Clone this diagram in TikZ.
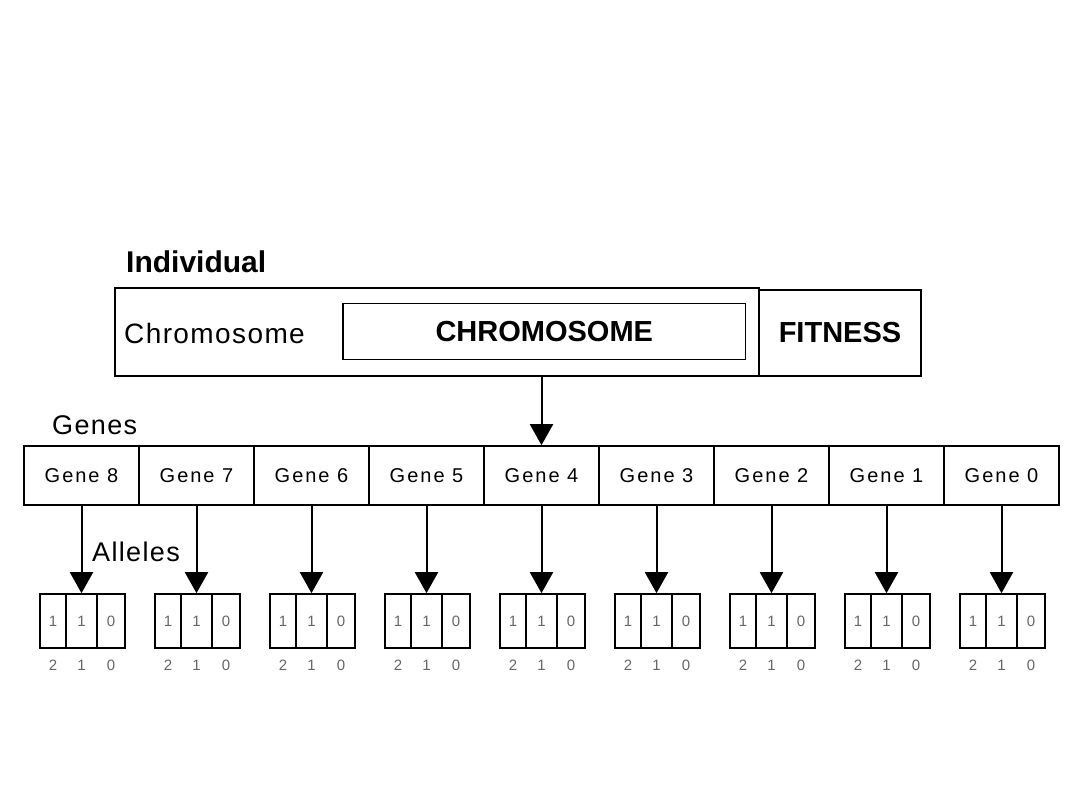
\documentclass[tikz,border=0pt]{standalone}
\usepackage{fontspec}
\setmainfont{Liberation Sans}
\newfontfamily\spfont[LetterSpace=5]{Liberation Sans}
\newfontfamily\genefont[LetterSpace=10]{Liberation Sans}
\usetikzlibrary{arrows.meta}
\begin{document}
\begin{tikzpicture}[x=1pt,y=-1pt,
  box/.style={draw,line width=1.6pt,inner sep=0pt,minimum width=#1},
  genecell/.style={draw,line width=1.6pt,inner sep=0pt,minimum width=115pt,minimum height=59pt,font=\genefont\fontsize{20}{22}\selectfont},
  allele/.style={draw,line width=1.6pt,inner sep=0pt,minimum width=#1,minimum height=54pt,font=\fontsize{15}{16}\selectfont,text=black!60},
  idx/.style={inner sep=0pt,font=\fontsize{15}{16}\selectfont,text=black!60},
  lbl/.style={inner sep=0pt,anchor=base west},
  arr/.style={line width=2pt,-{Triangle[width=23pt,length=21pt]}}]
\useasboundingbox (0,0) rectangle (1080,810);
% individual
\node[lbl,font=\bfseries\fontsize{30}{32}\selectfont] (indlbl) at (126,273) {Individual};
\node[box=644pt,minimum height=88pt] (indiv) at (437,332) {};
\node[box=162pt,minimum height=86pt,font=\bfseries\fontsize{29}{31}\selectfont] (fit) at (840,333) {FITNESS};
\node[box=402.5pt,minimum height=56pt,font=\bfseries\fontsize{29}{31}\selectfont] (chrom) at (544.25,331.5) {CHROMOSOME};
\node[lbl,font=\spfont\fontsize{28}{30}\selectfont] (chromlbl) at (124,344) {Chromosome};
% genes
\node[lbl,font=\spfont\fontsize{27}{29}\selectfont] (geneslbl) at (52,435) {Genes};
\foreach \k/\n in {0/8,1/7,2/6,3/5,4/4,5/3,6/2,7/1,8/0}{
  \pgfmathsetmacro{\cx}{24+115*(\k+0.5)}
  \node[genecell] (g\n) at (\cx,475.5) {Gene \n};
  \node[allele=26pt] (a\n2) at (\cx-28.5,621) {1};
  \node[allele=31pt] (a\n1) at (\cx,621) {1};
  \node[allele=28pt] (a\n0) at (\cx+29.5,621) {0};
  \node[idx] (b\n2) at (\cx-28.5,665) {2};
  \node[idx] (b\n1) at (\cx,665) {1};
  \node[idx] (b\n0) at (\cx+29.5,665) {0};
  \draw[arr] (g\n.south) -- (a\n1.north);
}
\node[lbl,font=\spfont\fontsize{27}{29}\selectfont] (allelelbl) at (92,561.7) {Alleles};
\coordinate (cs) at (indiv.south -| g4.north);
\draw[arr] (cs) -- (g4.north);
\end{tikzpicture}
\end{document}
